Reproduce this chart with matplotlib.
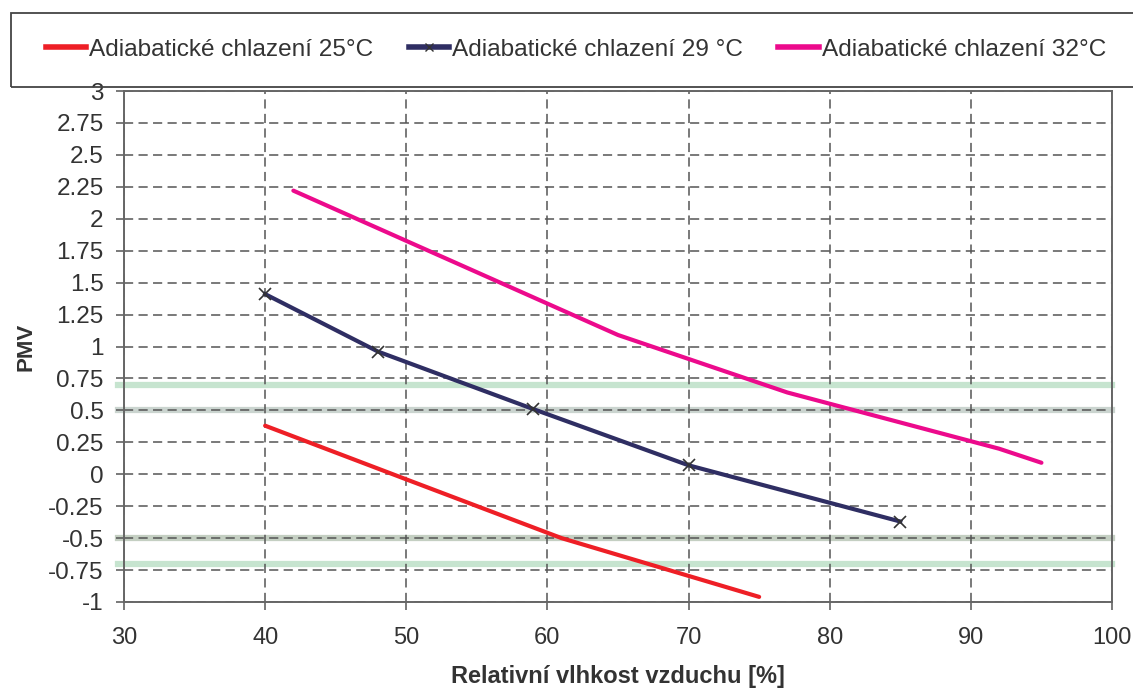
import matplotlib
matplotlib.use("Agg")
import matplotlib.pyplot as plt
from matplotlib.patches import Rectangle
from matplotlib.lines import Line2D

# Data
rh_25 = [40, 50, 61, 75]
pmv_25 = [0.38, -0.04, -0.5, -0.96]
rh_29 = [40, 48, 59, 70, 85]
pmv_29 = [1.41, 0.96, 0.51, 0.07, -0.37]
rh_32 = [42, 65, 77, 92, 95]
pmv_32 = [2.22, 1.09, 0.64, 0.2, 0.09]
labels = ["Adiabatické chlazení 25\u00b0C", "Adiabatické chlazení 29 \u00b0C", "Adiabatické chlazení 32\u00b0C"]
bands = [0.7, 0.5, -0.5, -0.7]
band_colors = ["#c6e4cf", "#cad4cf", "#c4cfc2", "#c6e4cf"]
xticks = [30, 40, 50, 60, 70, 80, 90, 100]
yticks = [-1, -0.75, -0.5, -0.25, 0, 0.25, 0.5, 0.75, 1, 1.25, 1.5, 1.75, 2, 2.25, 2.5, 2.75, 3]

plt.rcParams['font.family'] = ["Liberation Sans", "DejaVu Sans"]

fig = plt.figure(figsize=(11.33, 6.93), dpi=100)
ax = fig.add_axes([124/1133, 1-602/693, (1112-124)/1133, (602-91)/693])

for y, c in zip(bands, band_colors):
    ax.axhline(y, xmin=-0.006, xmax=1.0, color=c, lw=4.5, zorder=1.5, clip_on=False)

c25, c29, c32 = "#ee1f26", "#2f2e63", "#ec0a8c"
ax.plot(rh_25, pmv_25, color=c25, lw=3, zorder=3, solid_capstyle='round')
ax.plot(rh_29, pmv_29, color=c29, lw=3, zorder=3, marker='x', ms=8, mew=1.2, mec="#333333")
ax.plot(rh_32, pmv_32, color=c32, lw=3, zorder=3, solid_capstyle='round')

ax.set_xlim(30, 100)
ax.set_ylim(-1, 3)
ax.set_xticks(xticks)
ax.set_yticks(yticks)
ax.set_yticklabels([f"{v:g}" for v in yticks])
ax.grid(True, color="#555555", ls=(0, (6, 3.5)), lw=1.1, zorder=1)
for s in ax.spines.values():
    s.set_color("#666666")
    s.set_linewidth(1.4)
ax.tick_params(axis='both', direction='out', color="#555555", width=1.1, length=5.7, colors="#333333")
ax.tick_params(axis='y', labelsize=17.5, pad=9)
ax.tick_params(axis='x', labelsize=17, pad=12)
ax.set_ylabel("PMV", fontsize=16, fontweight='bold', color="#333333", labelpad=8)
ax.set_xlabel("Relativní vlhkost vzduchu [%]", fontsize=17, fontweight='bold',
              color="#333333", labelpad=12)

# Legend box
fig.patches.append(Rectangle((11/1133, 1-87/693), 1.1, 74/693, transform=fig.transFigure,
                             fill=False, edgecolor="#444444", lw=1.3))
handles = [Line2D([], [], color=c25, lw=4),
           Line2D([], [], color=c29, lw=4, marker='x', ms=6, mec="#333333"),
           Line2D([], [], color=c32, lw=4)]
leg = fig.legend(handles, labels, loc='center left', bbox_to_anchor=(24/1133, 1-50/693),
                 ncol=3, frameon=False, handlelength=1.65, handletextpad=0.12, columnspacing=1.45,
                 prop={'size': 17.6})
for t in leg.get_texts():
    t.set_color("#333333")

fig.savefig("out.png", dpi=100)
